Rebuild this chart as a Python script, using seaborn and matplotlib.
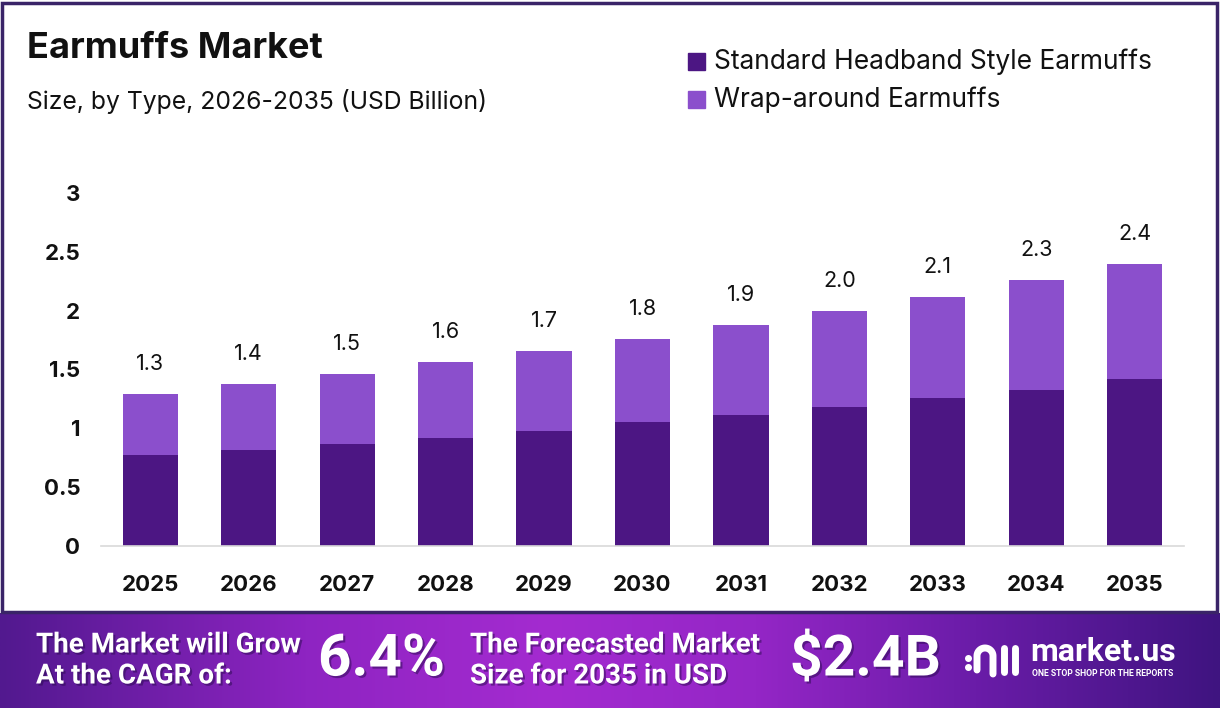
import numpy as np
import pandas as pd
import matplotlib
matplotlib.use("Agg")
import matplotlib.pyplot as plt
import matplotlib.patheffects as pe
import seaborn as sns

# chart data
years = ["2025", "2026", "2027", "2028", "2029", "2030", "2031", "2032", "2033", "2034", "2035"]
standard = [0.77, 0.82, 0.87, 0.92, 0.98, 1.05, 1.11, 1.18, 1.26, 1.33, 1.42]
wrap_around = [0.52, 0.56, 0.59, 0.64, 0.68, 0.71, 0.77, 0.82, 0.86, 0.93, 0.98]
y_ticks = [0, 0.5, 1, 1.5, 2, 2.5, 3]
y_tick_labels = ["0", "0.5", "1", "1.5", "2", "2.5", "3"]
series_names = ["Standard Headband Style Earmuffs", "Wrap-around Earmuffs"]
cagr_text = "6.4%"
forecast_text = "$2.4B"

dark = "#4C1683"
light = "#8B4FCC"

df = pd.DataFrame({"Year": years, "Standard": standard, "Wrap": wrap_around})
df["Total"] = df["Standard"] + df["Wrap"]

sns.set_theme(style="white")
plt.rcParams["font.family"] = ["Inter", "DejaVu Sans"]

fig = plt.figure(figsize=(12.2, 7.11), dpi=100)
fig.patch.set_facecolor("white")

ax = fig.add_axes([101 / 1220, 1 - 546 / 711, 1083 / 1220, 353 / 711])
ax.set_facecolor("none")

# stacked bars: total (light) behind, standard (dark) in front
sns.barplot(data=df, x="Year", y="Total", color=light, width=0.56, saturation=1,
            linewidth=0, ax=ax)
sns.barplot(data=df, x="Year", y="Standard", color=dark, width=0.56, saturation=1,
            linewidth=0, ax=ax)

ax.set_xlim(-0.5, len(years) - 0.5)
ax.set_ylim(0, 3)
ax.set_yticks(y_ticks)
ax.set_yticklabels(y_tick_labels)
ax.set_xlabel("")
ax.set_ylabel("")
ax.tick_params(axis="y", length=0, pad=15, labelsize=16)
ax.tick_params(axis="x", length=0, pad=21, labelsize=16)
for lab in ax.get_xticklabels() + ax.get_yticklabels():
    lab.set_fontweight("bold")
    lab.set_color("#111111")
for side in ["top", "right", "left"]:
    ax.spines[side].set_visible(False)
ax.spines["bottom"].set_color("#d9d9d9")
ax.spines["bottom"].set_linewidth(1.2)

for i, tot in enumerate(df["Total"]):
    ax.text(i, tot + 0.17, f"{tot:.1f}", ha="center", va="bottom", fontsize=15.5,
            color="#111111", clip_on=False)

# title + subtitle
fig.text(27 / 1220, 1 - 48 / 711, "Earmuffs Market", fontsize=26, fontweight="bold",
         color="#111111", va="center", ha="left")
fig.text(27 / 1220, 1 - 101 / 711, "Size, by Type, 2026-2035 (USD Billion)", fontsize=17.8,
         color="#111111", va="center", ha="left")

# legend by hand
for k, (name, col) in enumerate(zip(series_names, [dark, light])):
    yc = 1 - (62 + 38 * k) / 711
    fig.patches.append(plt.Rectangle((688 / 1220, yc - 8 / 711), 17 / 1220, 17 / 711,
                                     transform=fig.transFigure, color=col))
    fig.text(714 / 1220, yc, name, fontsize=19, color="#111111", va="center", ha="left")

# bottom banner with gradient
band = fig.add_axes([0, 1 - 708 / 711, 1, 95 / 711])
stops_x = [0.0, 0.25, 0.45, 0.62, 0.8, 1.0]
stops_c = ["#52198F", "#8E24C2", "#A42BD0", "#9426C6", "#6A1CA8", "#3F1480"]
rgb = np.array([matplotlib.colors.to_rgb(c) for c in stops_c])
xs = np.linspace(0, 1, 600)
grad = np.stack([np.interp(xs, stops_x, rgb[:, j]) for j in range(3)], axis=-1)
band.imshow(grad[np.newaxis, :, :], aspect="auto", extent=[0, 1, 0, 1])
band.set_xlim(0, 1)
band.set_ylim(0, 1)
band.axis("off")

white = "white"
shadow = [pe.SimplePatchShadow(offset=(1.5, -1.5), shadow_rgbFace="#2a0a50", alpha=0.5), pe.Normal()]
band_texts = [
    (36, 645, "The Market will Grow", 20),
    (36, 676, "At the CAGR of:", 20),
    (318, 660, cagr_text, 42),
    (470, 645, "The Forecasted Market", 20),
    (470, 676, "Size for 2035 in USD", 20),
    (790, 660, forecast_text, 41),
]
for px, py, s, size in band_texts:
    fig.text(px / 1220, 1 - py / 711, s, fontsize=size, fontweight="bold", color=white,
             va="center", ha="left", family="Roboto", path_effects=shadow)

# market.us logo (simple line icon + text)
logo = fig.add_axes([962 / 1220, 1 - 680 / 711, 62 / 1220, 42 / 711])
logo.set_xlim(0, 62)
logo.set_ylim(0, 42)
logo.axis("off")
logo.plot([6], [22], "o", color=white, ms=4)
logo.plot([6], [13], "o", color=white, ms=4)
t = np.linspace(np.pi, 0, 30)
logo.plot(np.r_[15, 15, 15 + 8 + 8 * np.cos(t), 31, 31],
          np.r_[10, 24, 24 + 8 * np.sin(t), 24, 6],
          color=white, lw=5, solid_capstyle="round")
logo.plot([42, 42], [8, 32], color=white, lw=5, solid_capstyle="round")
logo.plot([53, 53], [8, 32], color=white, lw=5, solid_capstyle="round")
fig.text(1030 / 1220, 1 - 652 / 711, "market.us", fontsize=23, fontweight="bold",
         color=white, va="center", ha="left", family="Roboto")
fig.text(1032 / 1220, 1 - 674 / 711, "ONE STOP SHOP FOR THE REPORTS", fontsize=6.2,
         fontweight="bold", color=white, va="center", ha="left", family="Roboto")

# outer frame
fig.patches.append(plt.Rectangle((2 / 1220, 1 - 612 / 711), 1215 / 1220, 609 / 711,
                                 transform=fig.transFigure, fill=False,
                                 edgecolor="#3A2468", linewidth=2.5))

fig.savefig("out.png", dpi=100, facecolor="white")
